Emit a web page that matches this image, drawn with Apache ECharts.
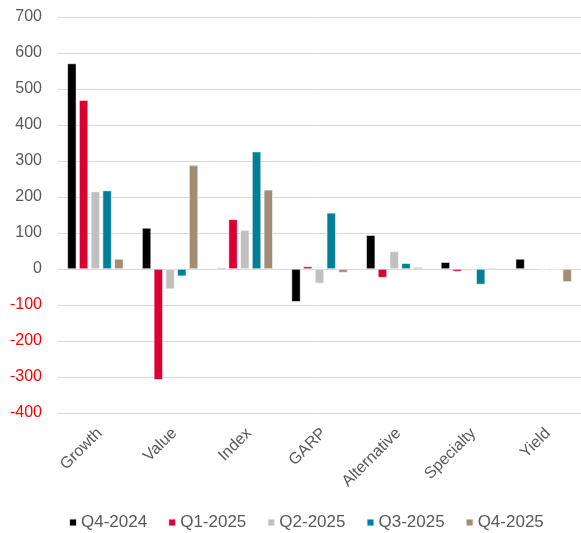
<!DOCTYPE html>
<html>
<head>
<meta charset="utf-8">
<script src="https://cdn.jsdelivr.net/npm/echarts@6/dist/echarts.min.js"></script>
<style>
  html, body { margin: 0; padding: 0; background: #fff; }
  #chart { width: 581px; height: 533px; }
</style>
</head>
<body>
<div id="chart"></div>
<script>
const categories = ['Growth', 'Value', 'Index', 'GARP', 'Alternative', 'Specialty', 'Yield'];
const seriesNames = ['Q4-2024', 'Q1-2025', 'Q2-2025', 'Q3-2025', 'Q4-2025'];
const q42024 = [571, 114, 3, -91, 94, 19, 28];
const q12025 = [469, -308, 138, 7, -24, -7, -3];
const q22025 = [215, -56, 108, -40, 49, -5, 0];
const q32025 = [218, -20, 326, 156, 16, -43, 0];
const q42025 = [28, 288, 220, -10, 5, 3, -36];
const colors = ['#000000', '#DC0032', '#C0C0C0', '#007F99', '#A28D74'];
const yTicks = { min: -400, max: 700, step: 100 };

const allValues = [q42024, q12025, q22025, q32025, q42025];

const series = seriesNames.map((name, i) => ({
  name: name,
  type: 'bar',
  data: allValues[i],
  barGap: '30%',
  barCategoryGap: '25%',
  itemStyle: {
    color: colors[i],
    borderColor: 'rgba(255,255,255,0.9)',
    borderWidth: 0.6
  }
}));

const chart = echarts.init(document.getElementById('chart'));
chart.setOption({
  animation: false,
  textStyle: { fontFamily: 'Liberation Sans, Arial, sans-serif' },
  grid: { left: 58, right: 0, top: 17, bottom: 120, containLabel: false },
  legend: {
    data: seriesNames,
    top: 509,
    left: 63,
    icon: 'rect',
    itemWidth: 8,
    itemHeight: 8,
    itemGap: 20,
    textStyle: { fontSize: 17, color: '#595959', padding: [0, 0, 0, -1] }
  },
  xAxis: {
    type: 'category',
    data: categories,
    axisTick: { show: false },
    axisLine: { lineStyle: { color: '#D9D9D9', width: 1 } },
    axisLabel: {
      rotate: 45,
      fontSize: 16,
      color: '#595959',
      margin: 22,
      padding: [0, -6, 0, 0],
      interval: 0
    }
  },
  yAxis: {
    type: 'value',
    min: yTicks.min,
    max: yTicks.max,
    interval: yTicks.step,
    axisLine: { show: false },
    axisTick: { show: false },
    splitLine: { lineStyle: { color: '#D9D9D9', width: 1 } },
    axisLabel: {
      fontSize: 16,
      margin: 16,
      color: (value) => (Number(value) < 0 ? '#FF0000' : '#595959')
    }
  },
  series: series
});
</script>
</body>
</html>
